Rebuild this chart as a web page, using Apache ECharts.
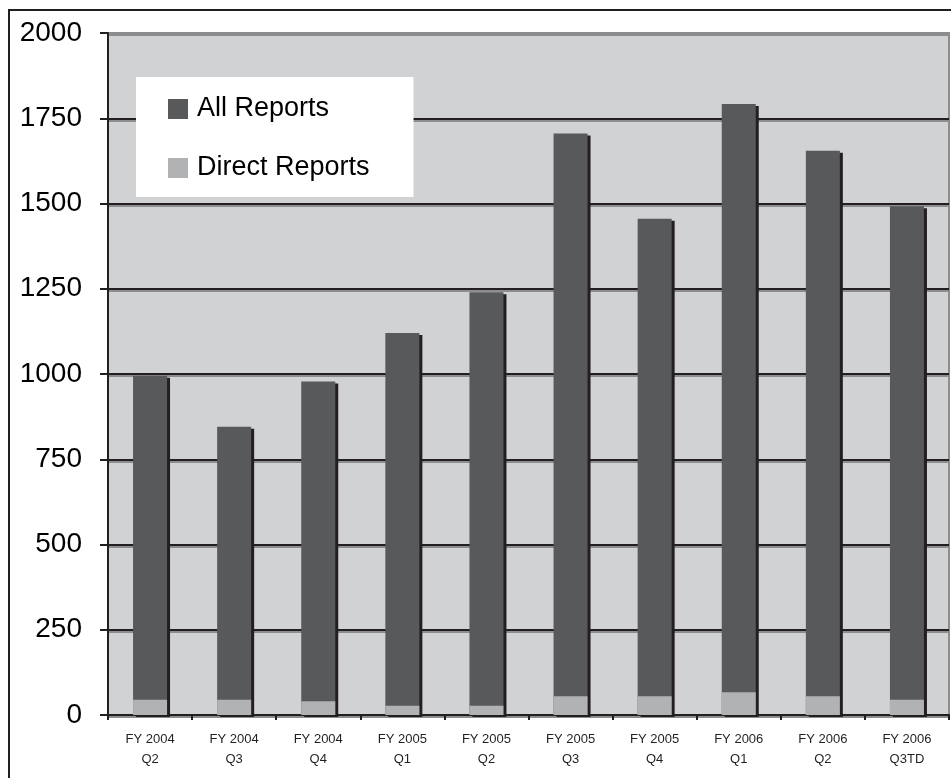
<!DOCTYPE html>
<html>
<head>
<meta charset="utf-8">
<script src="https://cdn.jsdelivr.net/npm/echarts@6/dist/echarts.min.js"></script>
<style>
  html, body { margin: 0; padding: 0; background: #ffffff; }
  #chart { width: 951px; height: 778px; }
</style>
</head>
<body>
<div id="chart"></div>
<script>
// Quarterly report counts
const quarters = ['FY 2004\nQ2', 'FY 2004\nQ3', 'FY 2004\nQ4', 'FY 2005\nQ1', 'FY 2005\nQ2',
                  'FY 2005\nQ3', 'FY 2005\nQ4', 'FY 2006\nQ1', 'FY 2006\nQ2', 'FY 2006\nQ3TD'];
const allReports = [995, 845, 978, 1120, 1240, 1705, 1455, 1792, 1655, 1492];
const directReports = [45, 45, 40, 27, 27, 55, 55, 67, 55, 45];
const yTicks = [0, 250, 500, 750, 1000, 1250, 1500, 1750, 2000];

const ink = '#231f20';
const font = '"Liberation Sans", Arial, sans-serif';

const chart = echarts.init(document.getElementById('chart'), null, { renderer: 'canvas' });

// split line colours: dark rules, the top one blends into the plot border
const splitColors = yTicks.map((v, i) => i === yTicks.length - 1 ? '#8c8d8f' : ink);

chart.setOption({
  animation: false,
  backgroundColor: '#ffffff',
  graphic: [{
    type: 'rect',
    z: -10,
    shape: { x: 9, y: 10, width: 980, height: 800 },
    style: { fill: 'none', stroke: ink, lineWidth: 2 }
  }],
  grid: {
    left: 108, right: 2, top: 33, bottom: 63,
    show: true,
    backgroundColor: '#d1d2d4',
    borderColor: '#8c8d8f',
    borderWidth: 2
  },
  legend: {
    left: 136, top: 77,
    orient: 'vertical',
    backgroundColor: '#ffffff',
    padding: [17, 44, 14, 32],
    itemGap: 29,
    itemWidth: 20, itemHeight: 20,
    icon: 'rect',
    textStyle: { fontFamily: font, fontSize: 27, color: '#000000', lineHeight: 30, padding: [0, 0, 0, 4] },
    data: ['All Reports', 'Direct Reports']
  },
  xAxis: {
    type: 'category',
    data: quarters,
    axisLine: { lineStyle: { color: ink, width: 2 } },
    axisTick: { show: true, length: 5, lineStyle: { color: ink, width: 2 } },
    axisLabel: {
      fontFamily: font, fontSize: 13, color: ink, lineHeight: 20, margin: 14,
      interval: 0
    }
  },
  yAxis: {
    type: 'value',
    min: 0, max: 2000, interval: 250,
    axisLine: { show: true, lineStyle: { color: ink, width: 2 } },
    axisTick: { show: true, length: 8, lineStyle: { color: ink, width: 2 } },
    axisLabel: {
      fontFamily: font, fontSize: 28, color: '#000000', margin: 26,
      formatter: v => String(v)
    },
    splitLine: {
      show: true,
      lineStyle: {
        color: splitColors, width: 2,
        shadowColor: '#8c8d8f', shadowOffsetY: 2, shadowBlur: 0
      }
    }
  },
  series: [
    {
      name: 'All Reports',
      type: 'bar',
      data: allReports,
      barWidth: 34,
      barGap: '-100%',
      itemStyle: {
        color: '#58595b',
        shadowColor: ink, shadowOffsetX: 3, shadowOffsetY: 2, shadowBlur: 0
      }
    },
    {
      name: 'Direct Reports',
      type: 'bar',
      data: directReports,
      barWidth: 34,
      barGap: '-100%',
      itemStyle: { color: '#b1b2b4' }
    }
  ]
});
</script>
</body>
</html>
